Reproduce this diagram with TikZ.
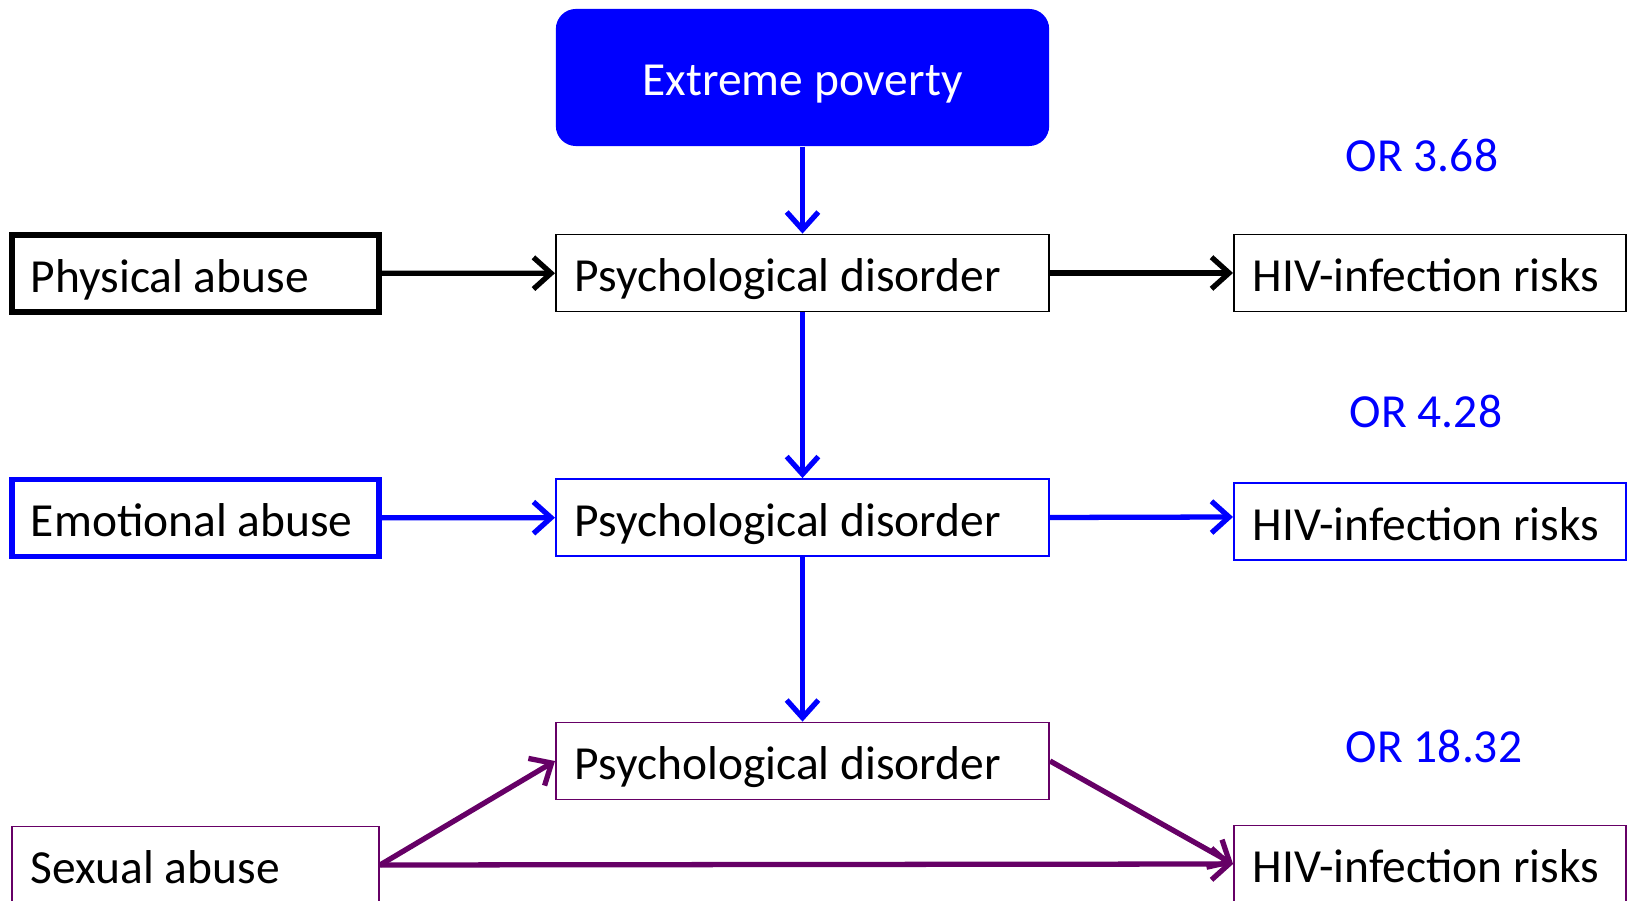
\documentclass[tikz,border=0pt]{standalone}
\usepackage{fontspec}
\setmainfont{Carlito}
\usetikzlibrary{arrows.meta}
\definecolor{abusepurple}{RGB}{102,0,102}

\begin{document}
\begin{tikzpicture}[x=0.01cm,y=-0.01cm,
    >={Straight Barb[length=5pt,width=9pt]},
    txt/.style={font=\fontsize{13.5}{16}\selectfont,text height=0.37cm,text depth=0pt},
    box/.style={txt,draw,rectangle,inner xsep=0.19cm,inner ysep=0pt,
      minimum height=0.77cm,align=left,line width=0.5pt,
      execute at begin node={\spaceskip=0pt\xspaceskip=0pt}},
    side/.style={box,text width=3.29cm,line width=1.5pt},
    mid/.style={box,text width=4.55cm},
    risk/.style={box,text width=3.54cm},
    odds/.style={txt,text=blue}]
    \useasboundingbox (0,0) rectangle (1628,901);
    %% Draw the nodes
    \node[txt,fill=blue,text=white,rounded corners=0.2cm,minimum width=4.93cm,
      minimum height=1.37cm] (Pov) at (802.5,77.5) {Extreme poverty};
    \node[side] (Phys) at (195.5,273.5) {Physical abuse};
    \node[mid] (Psy1) at (802.5,273) {Psychological disorder};
    \node[risk] (Hiv1) at (1430,273) {HIV-infection risks};
    \node[side,draw=blue] (Emo) at (195.5,518) {Emotional abuse};
    \node[mid,draw=blue] (Psy2) at (802.5,517.5) {Psychological disorder};
    \node[risk,draw=blue] (Hiv2) at (1430,521.5) {HIV-infection risks};
    \node[side,draw=abusepurple,line width=0.5pt] (Sex) at (195.5,865) {Sexual abuse};
    \node[mid,draw=abusepurple] (Psy3) at (802.5,761) {Psychological disorder};
    \node[risk,draw=abusepurple] (Hiv3) at (1430,864) {HIV-infection risks};
    %% Draw the odds ratios
    \node[odds] (OR1) at (1422,153) {OR 3.68};
    \node[odds] (OR2) at (1426,409) {OR 4.28};
    \node[odds] (OR3) at (1434,744) {OR 18.32};
    %% Draw the edges
    \begin{scope}[every path/.style={->,line width=1.5pt}]
      \draw[blue] (Pov) -- (Psy1);
      \draw (Phys) -- (Psy1);
      \draw (Psy1) -- (Hiv1);
      \draw[blue] (Psy1) -- (Psy2);
      \draw[blue] (Emo) -- (Psy2);
      \draw[blue] (Psy2.east) -- ([yshift=0.045cm]Hiv2.west);
      \draw[blue] (Psy2) -- (Psy3);
      \draw[abusepurple] (Sex.east) -- (Psy3.west);
      \draw[abusepurple] (Psy3.east) -- (Hiv3.west);
      \draw[abusepurple] (Sex.east) -- (Hiv3.west);
    \end{scope}
  \end{tikzpicture}
\end{document}
